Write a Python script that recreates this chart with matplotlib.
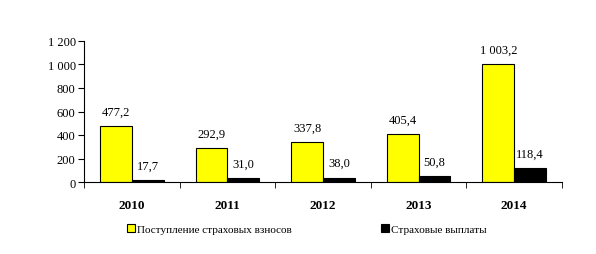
import numpy as np
import matplotlib
matplotlib.use("Agg")
import matplotlib.pyplot as plt

plt.rcParams["font.family"] = ["Liberation Serif", "DejaVu Serif"]

years = ["2010", "2011", "2012", "2013", "2014"]
premiums = [477.2, 292.9, 337.8, 405.4, 1003.2]
payouts = [17.7, 31.0, 38.0, 50.8, 118.4]
premium_labels = ["477,2", "292,9", "337,8", "405,4", "1 003,2"]
payout_labels = ["17,7", "31,0", "38,0", "50,8", "118,4"]
yticks = [0, 200, 400, 600, 800, 1000, 1200]
ytick_labels = ["0", "200", "400", "600", "800", "1 000", "1 200"]

fig = plt.figure(figsize=(5.96, 2.55), dpi=100)
ax = fig.add_axes([84/596, 1-183/255, 478/596, 141/255])

x = np.arange(len(years))
w = 1/3
b1 = ax.bar(x - w/2, premiums, w, color="#ffff00", edgecolor="black", linewidth=0.8,
            label="Поступление страховых взносов")
b2 = ax.bar(x + w/2, payouts, w, color="black", edgecolor="black", linewidth=0.8,
            label="Страховые выплаты")

for i in range(len(years)):
    ax.annotate(premium_labels[i], (x[i] - w/2, premiums[i]), xytext=(0, 6),
                textcoords="offset points", ha="center", va="bottom", fontsize=9)
    ax.annotate(payout_labels[i], (x[i] + w/2, payouts[i]), xytext=(0, 6),
                textcoords="offset points", ha="center", va="bottom", fontsize=9)

ax.set_xlim(-0.5, len(years) - 0.5)
ax.set_ylim(0, 1200)
ax.set_yticks(yticks)
ax.set_yticklabels(ytick_labels, fontsize=9)
ax.set_xticks(x)
ax.set_xticklabels(years, fontsize=9.5, fontweight="bold")
ax.tick_params(axis="x", length=0, pad=12)
ax.set_xticks(np.arange(len(years) + 1) - 0.5, minor=True)
ax.tick_params(axis="x", which="minor", length=4, direction="out")
ax.tick_params(axis="y", length=4, direction="out", pad=2)
for s in ["top", "right"]:
    ax.spines[s].set_visible(False)

fig.legend(handles=[b1, b2], loc="lower center", bbox_to_anchor=(0.515, 0.04), ncol=2,
           frameon=False, fontsize=8, handlelength=0.7, handleheight=0.7,
           handletextpad=0.2, columnspacing=8)

fig.savefig("out.png", dpi=100)
